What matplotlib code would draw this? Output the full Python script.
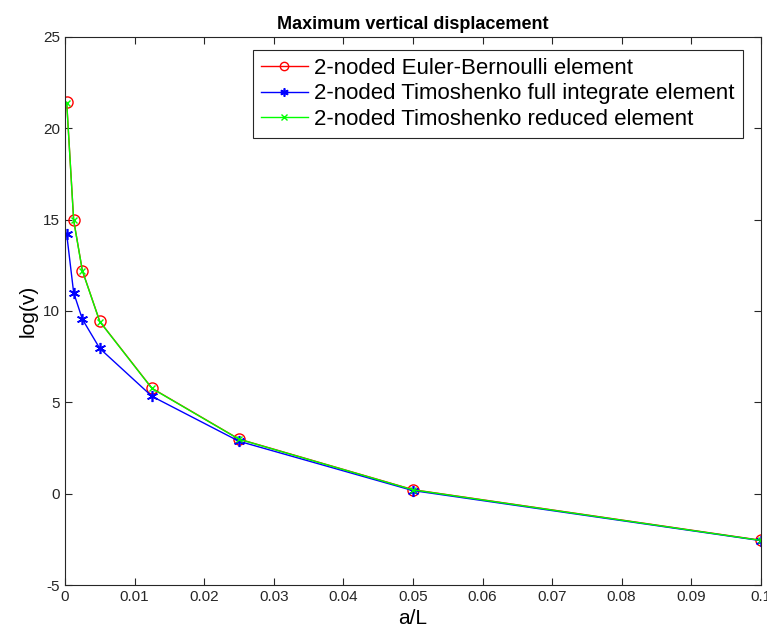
import matplotlib
matplotlib.use('Agg')
import matplotlib.pyplot as plt

plt.rcParams['font.family'] = ['Liberation Sans', 'DejaVu Sans']
plt.rcParams['axes.unicode_minus'] = False

# a/L ratios and log of max vertical displacement
aL = [0.00025, 0.00125, 0.0025, 0.005, 0.0125, 0.025, 0.05, 0.1]
euler = [21.42, 14.98, 12.21, 9.43, 5.77, 2.99, 0.22, -2.55]
timo_full = [14.2, 11.0, 9.55, 7.95, 5.33, 2.87, 0.17, -2.57]
timo_red = [21.4, 14.96, 12.2, 9.42, 5.76, 2.98, 0.21, -2.56]

fig = plt.figure(figsize=(7.67, 6.37), dpi=100)
ax = fig.add_axes([0.0847, 0.0816, 0.9073, 0.8604])

ax.plot(aL, euler, color='#ff0000', marker='o', mfc='none', ms=8, lw=1,
        label='2-noded Euler-Bernoulli element')
ax.plot(aL, timo_full, color='#0000ff', marker=(6, 2, 0), ms=8, mew=1.2, lw=1,
        label='2-noded Timoshenko full integrate element')
ax.plot(aL, timo_red, color='#00ff00', marker='x', ms=5, lw=1,
        label='2-noded Timoshenko reduced element')

ax.set_xlim(0, 0.1)
ax.set_ylim(-5, 25)
ax.set_xticks([0, 0.01, 0.02, 0.03, 0.04, 0.05, 0.06, 0.07, 0.08, 0.09, 0.1])
ax.set_xticklabels(['0', '0.01', '0.02', '0.03', '0.04', '0.05', '0.06', '0.07', '0.08', '0.09', '0.1'])
ax.set_yticks([-5, 0, 5, 10, 15, 20, 25])
ax.tick_params(direction='in', top=True, right=True, labelsize=11, length=5, colors='#262626')
for s in ax.spines.values():
    s.set_color('#262626')

ax.set_title('Maximum vertical displacement', fontsize=13, fontweight='bold')
ax.set_xlabel('a/L', fontsize=15)
ax.set_ylabel('log(v)', fontsize=15)

leg = ax.legend(loc='upper right', bbox_to_anchor=(0.974, 0.976), borderaxespad=0,
                fontsize=16, fancybox=False, framealpha=1,
                edgecolor='#262626', handlelength=2.1,
                labelspacing=0.2, borderpad=0.35, handletextpad=0.3,
                markerscale=0.75)
leg.get_frame().set_linewidth(0.8)

fig.savefig('out.png', dpi=100)
